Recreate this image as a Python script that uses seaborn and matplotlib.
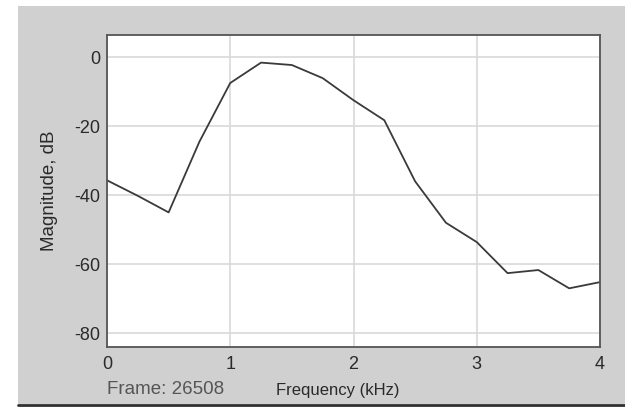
import matplotlib
matplotlib.use("Agg")
import matplotlib.pyplot as plt
import matplotlib.patches as mpatches
import seaborn as sns
import pandas as pd

# Spectrum magnitude sampled every 0.25 kHz
freq_khz = [0.0, 0.25, 0.5, 0.75, 1.0, 1.25, 1.5, 1.75, 2.0, 2.25, 2.5, 2.75, 3.0, 3.25, 3.5, 3.75, 4.0]
magnitude_db = [-35.7, -40.2, -45.0, -24.5, -7.5, -1.6, -2.3, -6.1, -12.5, -18.3, -36.0, -48.0, -53.6, -62.6, -61.7, -67.0, -65.2]
x_ticks = [0, 1, 2, 3, 4]
y_ticks = [0, -20, -40, -60, -80]
frame_number = 26508

sns.set_theme(style="whitegrid")
plt.rcParams["font.family"] = ["Liberation Sans", "DejaVu Sans"]

df = pd.DataFrame({"freq": freq_khz, "mag": magnitude_db})

W, H = 625, 407
fig = plt.figure(figsize=(W / 100, H / 100), dpi=100, facecolor="white")

# grey panel behind the plot
panel = mpatches.Rectangle((18 / W, 1 - 404 / H), (W - 18) / W, (404 - 6) / H,
                           transform=fig.transFigure, facecolor="#d0d0d0",
                           edgecolor="none", zorder=-10)
fig.patches.append(panel)
fig.add_artist(plt.Line2D([18 / W, 1], [1 - 405 / H, 1 - 405 / H],
                          transform=fig.transFigure, color="#303030", lw=2,
                          zorder=-5))

left, right, top, bottom = 107, 600, 35, 347
ax = fig.add_axes([left / W, 1 - bottom / H, (right - left) / W, (bottom - top) / H])
ax.set_zorder(1)
ax.set_facecolor("white")

sns.lineplot(data=df, x="freq", y="mag", ax=ax, color="#3a3a3a", lw=1.3)

ax.set_xlim(0, 4)
ax.set_ylim(-84, 6.4)
ax.set_xticks(x_ticks)
ax.set_yticks(y_ticks)
ax.set_xticklabels([str(t) for t in x_ticks])
ax.set_yticklabels([str(t) for t in y_ticks])
ax.grid(True, color="#d9d9d9", lw=1.2)
for s in ax.spines.values():
    s.set_color("#555555")
    s.set_linewidth(1.3)
ax.tick_params(axis="both", length=0, labelsize=13, colors="#2a2a2a")
ax.tick_params(axis="y", pad=5)
ax.tick_params(axis="x", pad=6.5)

ax.set_xlabel("")
ax.set_ylabel("")
fig.text(50 / W, 1 - 191 / H, "Magnitude, dB", rotation=90, ha="center", va="center",
         fontsize=13.5, color="#2a2a2a")
fig.text(338 / W, 1 - 390 / H, "Frequency (kHz)", ha="center", va="center",
         fontsize=12, color="#2a2a2a")
fig.text(107 / W, 1 - 390 / H, f"Frame: {frame_number}", ha="left", va="center",
         fontsize=13.5, color="#555555")

fig.savefig("out.png", dpi=100, facecolor="white")
